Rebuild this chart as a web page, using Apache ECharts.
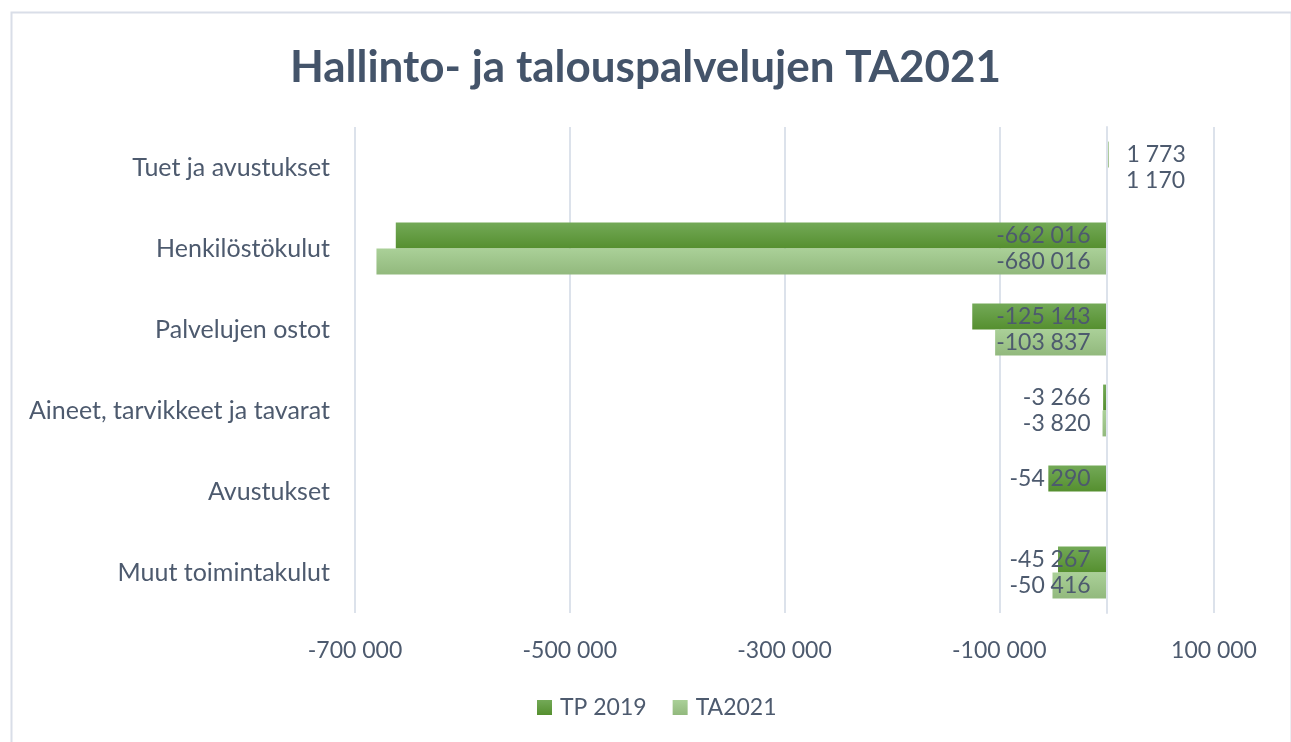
<!DOCTYPE html>
<html>
<head>
<meta charset="utf-8">
<script src="https://cdn.jsdelivr.net/npm/echarts@6/dist/echarts.min.js"></script>
<style>
html,body{margin:0;padding:0;background:#fff;}
#chart{width:1291px;height:742px;}
</style>
</head>
<body>
<div id="chart"></div>
<script>
const titleText = 'Hallinto- ja talouspalvelujen TA2021';
const categories = ['Tuet ja avustukset', 'Henkilöstökulut', 'Palvelujen ostot', 'Aineet, tarvikkeet ja tavarat', 'Avustukset', 'Muut toimintakulut'];
const seriesNames = ['TP 2019', 'TA2021'];
const tp2019 = [1773, -662016, -125143, -3266, -54290, -45267];
const ta2021 = [1170, -680016, -103837, -3820, null, -50416];
const tickValues = [-700000, -500000, -300000, -100000, 100000];
const axisMin = -700000, axisMax = 100000;

const FONT = 'Lato, "Open Sans", sans-serif';
const TEXT = '#4d5a6e';

function fmt(v) {
  const neg = v < 0;
  const s = String(Math.abs(Math.round(v))).replace(/\B(?=(\d{3})+(?!\d))/g, ' ');
  return (neg ? '-' : '') + s;
}

function mkData(arr) {
  return arr.map(v => v == null ? null : ({
    value: v,
    label: { position: v < 0 ? 'insideRight' : 'right', distance: v < 0 ? 16 : 18 }
  }));
}

function grad(top, bottom) {
  return new echarts.graphic.LinearGradient(0, 0, 0, 1, [
    { offset: 0, color: top }, { offset: 1, color: bottom }
  ]);
}

const chart = echarts.init(document.getElementById('chart'), null, { renderer: 'canvas' });
const labelCfg = {
  show: true, color: TEXT, fontFamily: FONT, fontSize: 23,
  formatter: p => fmt(p.value)
};
chart.setOption({
  backgroundColor: '#ffffff',
  animation: false,
  graphic: [{
    type: 'rect', left: 9, top: 10, z: -10,
    shape: { width: 1280, height: 745 },
    style: { fill: 'none', stroke: '#d9dee8', lineWidth: 2 }
  }],
  title: {
    text: titleText, left: 'center', top: 41,
    textStyle: { fontFamily: FONT, fontSize: 44, fontWeight: 'bold', color: '#44546a' }
  },
  legend: {
    data: seriesNames, bottom: 18, left: 532,
    itemWidth: 15, itemHeight: 15, itemGap: 26, icon: 'rect',
    textStyle: { fontFamily: FONT, fontSize: 23, color: TEXT, padding: [0, 0, 0, 3] }
  },
  grid: { left: 355, right: 77, top: 127, bottom: 129, containLabel: false },
  xAxis: {
    type: 'value', min: axisMin, max: axisMax, interval: 100000,
    axisLine: { show: false },
    axisTick: { show: false, customValues: tickValues },
    axisLabel: { customValues: tickValues, formatter: v => fmt(v), color: TEXT, fontFamily: FONT, fontSize: 23, margin: 26 },
    splitLine: { show: true, lineStyle: { color: '#dce2eb', width: 2 } }
  },
  yAxis: {
    type: 'category', data: categories, inverse: true, z: 5,
    axisLine: { show: true, onZero: true, lineStyle: { color: '#dce2eb', width: 2 } },
    axisTick: { show: false },
    axisLabel: { color: TEXT, fontFamily: FONT, fontSize: 25, margin: 25 }
  },
  series: [
    {
      name: seriesNames[0], type: 'bar', data: mkData(tp2019),
      barGap: '0%', barCategoryGap: '36%',
      itemStyle: { color: grad('#73a957', '#558f2f') },
      label: labelCfg
    },
    {
      name: seriesNames[1], type: 'bar', data: mkData(ta2021),
      barGap: '0%', barCategoryGap: '36%',
      itemStyle: { color: grad('#aad098', '#92b97d') },
      label: labelCfg
    }
  ]
});
</script>
</body>
</html>
